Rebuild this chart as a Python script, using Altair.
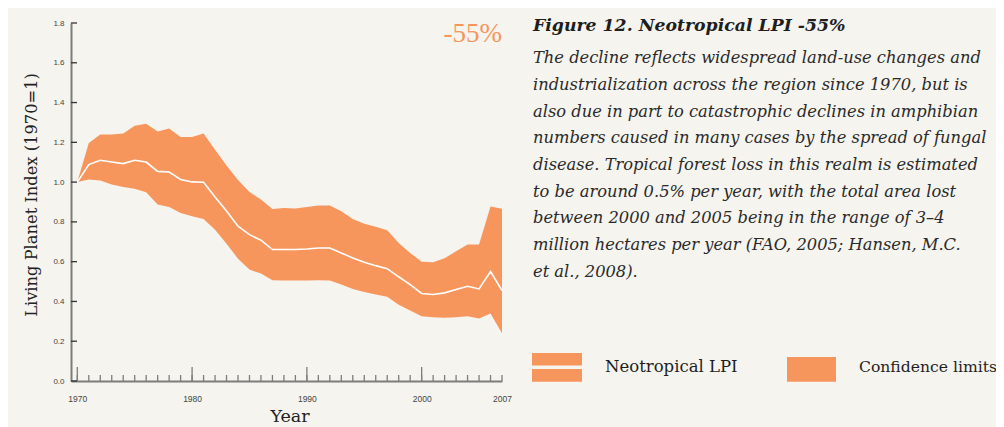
import altair as alt
import pandas as pd

# ---- data ----
years = list(range(1970, 2008))
lpi = [1.000, 1.088, 1.110, 1.101, 1.093, 1.110, 1.101, 1.054, 1.051, 1.013,
       1.001, 0.999, 0.925, 0.855, 0.778, 0.736, 0.708, 0.661, 0.661, 0.661,
       0.664, 0.669, 0.669, 0.644, 0.619, 0.597, 0.580, 0.565, 0.524, 0.485,
       0.440, 0.435, 0.443, 0.460, 0.476, 0.463, 0.550, 0.455]
upper = [1.000, 1.197, 1.239, 1.239, 1.244, 1.284, 1.294, 1.255, 1.269, 1.227,
         1.227, 1.244, 1.163, 1.084, 1.010, 0.950, 0.912, 0.865, 0.870, 0.867,
         0.875, 0.882, 0.882, 0.853, 0.815, 0.791, 0.775, 0.758, 0.694, 0.644,
         0.599, 0.597, 0.617, 0.652, 0.686, 0.686, 0.878, 0.866]
lower = [1.000, 1.013, 1.008, 0.988, 0.976, 0.967, 0.949, 0.887, 0.875, 0.845,
         0.828, 0.815, 0.760, 0.690, 0.615, 0.560, 0.540, 0.507, 0.505, 0.505,
         0.505, 0.507, 0.505, 0.485, 0.463, 0.448, 0.435, 0.423, 0.384, 0.354,
         0.326, 0.321, 0.318, 0.321, 0.326, 0.314, 0.339, 0.240]

x_labels = [1970, 1980, 1990, 2000, 2007]
major_ticks = [1970, 1980, 1990, 2000]
y_ticks = [0.0, 0.2, 0.4, 0.6, 0.8, 1.0, 1.2, 1.4, 1.6, 1.8]

change_label = "-55%"
fig_title = "Figure 12. Neotropical LPI -55%"
body_lines = [
    "The decline reflects widespread land-use changes and",
    "industrialization across the region since 1970, but is",
    "also due in part to catastrophic declines in amphibian",
    "numbers caused in many cases by the spread of fungal",
    "disease. Tropical forest loss in this realm is estimated",
    "to be around 0.5% per year, with the total area lost",
    "between 2000 and 2005 being in the range of 3\u20134",
    "million hectares per year (FAO, 2005; Hansen, M.C.",
    "et al., 2008).",
]
legend_labels = ["Neotropical LPI", "Confidence limits"]
y_title = "Living Planet Index (1970=1)"
x_title = "Year"

ORANGE = "#f7965c"
BG = "#f5f4ee"
AXIS_GRAY = "#7d7d7d"
SERIF = "DejaVu Serif"
SANS = "Liberation Sans"

W, H = 431, 358

df = pd.DataFrame({"year": years, "lpi": lpi, "upper": upper, "lower": lower})
xs = alt.Scale(domain=[1969.45, 2007], nice=False, zero=False)
ys = alt.Scale(domain=[0, 1.8], nice=False, zero=True)

X_AX = alt.Axis(values=x_labels, format="d", ticks=False, grid=False,
                domainColor=AXIS_GRAY, domainWidth=2, labelFlush=False,
                labelFont=SANS, labelFontSize=8.5, labelColor="#444",
                labelPadding=13, title=None)
Y_AX = alt.Axis(values=y_ticks, format=".1f", ticks=False, grid=False,
                domainColor=AXIS_GRAY, domainWidth=2, labelFlush=False,
                labelFont=SANS, labelFontSize=8, labelColor="#444",
                labelPadding=7, title=None)

band = alt.Chart(df).mark_area(color=ORANGE, opacity=1).encode(
    x=alt.X("year:Q", scale=xs, axis=X_AX),
    y=alt.Y("lower:Q", scale=ys, axis=Y_AX),
    y2="upper:Q",
)

line = alt.Chart(df).mark_line(color="white", strokeWidth=1.6).encode(
    x=alt.X("year:Q", scale=xs, axis=X_AX),
    y=alt.Y("lpi:Q", scale=ys, axis=Y_AX),
)

# axis tick marks (pointing inward)
minor = alt.Chart(pd.DataFrame({"year": years})).mark_rule(
    color=AXIS_GRAY, strokeWidth=1.3).encode(
    x=alt.X("year:Q", scale=xs, axis=X_AX),
    y=alt.value(H), y2=alt.value(H - 6),
)
major = alt.Chart(pd.DataFrame({"year": major_ticks})).mark_rule(
    color=AXIS_GRAY, strokeWidth=1.3).encode(
    x=alt.X("year:Q", scale=xs, axis=X_AX),
    y=alt.value(H), y2=alt.value(H - 14),
)
yt = alt.Chart(pd.DataFrame({"lpi": y_ticks})).mark_rule(
    color="#333", strokeWidth=1.3).encode(
    y=alt.Y("lpi:Q", scale=ys, axis=Y_AX),
    x=alt.value(0), x2=alt.value(6),
)

one = pd.DataFrame({"a": [0]})

def text_layer(txt, x, y, **kw):
    return alt.Chart(pd.DataFrame({"t": [txt]})).mark_text(**kw).encode(
        text="t:N", x=alt.value(x), y=alt.value(y))

ytitle = text_layer(y_title, -34.5, 172, angle=270, align="center",
                    baseline="alphabetic", font=SERIF, fontSize=16.3, color="#222")
xtitle = text_layer(x_title, 219, 399, align="center", baseline="alphabetic",
                    font=SERIF, fontSize=17.5, color="#222")
change = text_layer(change_label, 431, 18.7, align="right", baseline="alphabetic",
                    font="Liberation Sans Narrow", fontSize=27, color=ORANGE)
ftitle = text_layer(fig_title, 462, 7.7, align="left", baseline="alphabetic",
                    font=SERIF, fontSize=17.3, fontStyle="italic", fontWeight="bold",
                    color="#1e1e1e")
body = text_layer("\n".join(body_lines), 462, 40.3, align="left",
                  baseline="alphabetic", font=SERIF, fontSize=16.3,
                  fontStyle="italic", color="#2a2a2a", lineBreak="\n",
                  lineHeight=26.7)

sw1 = alt.Chart(one).mark_rect(color=ORANGE).encode(
    x=alt.value(461), x2=alt.value(511), y=alt.value(330), y2=alt.value(358.7))
sw1line = alt.Chart(one).mark_rule(color=BG, strokeWidth=3.5).encode(
    x=alt.value(461), x2=alt.value(511), y=alt.value(344.3))
sw2 = alt.Chart(one).mark_rect(color=ORANGE).encode(
    x=alt.value(716), x2=alt.value(765), y=alt.value(334), y2=alt.value(358.7))
leg1 = text_layer(legend_labels[0], 534, 348.7, align="left", baseline="alphabetic",
                  font=SERIF, fontSize=16.5, color="#1e1e1e")
leg2 = text_layer(legend_labels[1], 788, 348.7, align="left", baseline="alphabetic",
                  font=SERIF, fontSize=15.6, color="#1e1e1e")

chart = alt.layer(
    band, line, minor, major, yt, ytitle, xtitle, change, ftitle, body,
    sw1, sw1line, sw2, leg1, leg2,
).properties(
    width=W, height=H,
    autosize=alt.AutoSizeParams(type="none"),
    padding={"left": 63, "top": 15, "right": 494, "bottom": 46},
    background=BG,
).configure_view(stroke=None)

chart.save("out.html", embed_options={"renderer": "svg", "actions": False})
